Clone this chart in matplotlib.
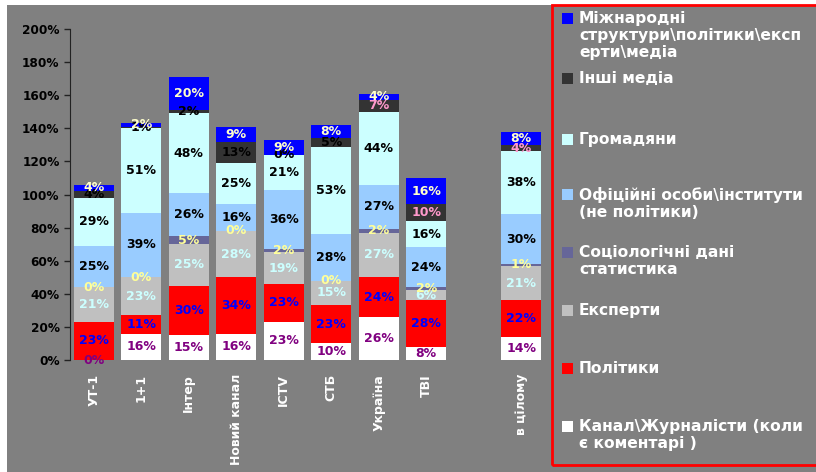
import numpy as np
import matplotlib
matplotlib.use('Agg')
import matplotlib.pyplot as plt
from matplotlib.patches import Rectangle

channels = ['УТ-1', '1+1', 'Інтер', 'Новий канал', 'ICTV', 'СТБ', 'Україна', 'ТВІ', 'в цілому']
slot = [0, 1, 2, 3, 4, 5, 6, 7, 9]   # empty slot before "в цілому"

# stacked from the bottom up, values in %
journalists = [0, 16, 15, 16, 23, 10, 26, 8, 14]
politicians = [23, 11, 30, 34, 23, 23, 24, 28, 22]
experts = [21, 23, 25, 28, 19, 15, 27, 6, 21]
sociology = [0, 0, 5, 0, 2, 0, 2, 2, 1]
officials = [25, 39, 26, 16, 36, 28, 27, 24, 30]
citizens = [29, 51, 48, 25, 21, 53, 44, 16, 38]
other_media = [4, 1, 2, 13, 0, 5, 7, 10, 4]
international = [4, 2, 20, 9, 9, 8, 4, 16, 8]

series = [journalists, politicians, experts, sociology,
          officials, citizens, other_media, international]
legend_labels = [
    'Канал\\Журналісти (коли\nє коментарі )',
    'Політики',
    'Експерти',
    'Соціологічні дані\nстатистика',
    'Офіційні особи\\інститути\n(не політики)',
    'Громадяни',
    'Інші медіа',
    'Міжнародні\nструктури\\політики\\експ\nерти\\медіа',
]
colors = ['#FFFFFF', '#FF0000', '#C0C0C0', '#666699',
          '#99CCFF', '#CCFFFF', '#333333', '#0000FF']
label_colors = ['#800080', '#0000FF', '#CCFFFF', '#FFFF99',
                'black', 'black', None, '#FFFFCC']
dark_label_colors = ['black'] * 6 + ['#FF99CC'] * 3

BG = '#808080'
W, H = 816, 472

fig = plt.figure(figsize=(W / 100, H / 100), dpi=100)
fig.patch.set_facecolor('white')
fig.add_artist(Rectangle((7 / W, 0), 1, 1 - 5 / H, transform=fig.transFigure,
                         facecolor=BG, edgecolor='none', zorder=0))

ax = fig.add_axes([70 / W, 1 - 360 / H, 475 / W, 331 / H])
ax.set_facecolor(BG)
ax.patch.set_alpha(0)

x = np.array(slot)
bottom = np.zeros(len(channels))
for i, vals in enumerate(series):
    vals = np.array(vals, dtype=float)
    ax.bar(x, vals, bottom=bottom, width=0.84, color=colors[i],
           edgecolor='none', zorder=2)
    for j in range(len(channels)):
        c = label_colors[i] if label_colors[i] else dark_label_colors[j]
        ax.text(x[j], bottom[j] + vals[j] / 2, f'{int(vals[j])}%',
                ha='center', va='center', color=c, fontsize=9,
                fontweight='bold', zorder=3)
    bottom += vals

ax.set_xlim(-0.5, 9.5)
ax.set_ylim(0, 200)
ax.set_yticks(range(0, 201, 20))
ax.set_yticklabels([f'{v}%' for v in range(0, 201, 20)],
                   fontsize=8.7, fontweight='bold', color='black')
ax.set_xticks(x)
ax.set_xticklabels(channels, rotation=90, fontsize=9,
                   fontweight='bold', color='white')
ax.tick_params(axis='x', length=0, pad=10)
ax.tick_params(axis='y', length=4, width=1, color='#222222', direction='out')
for s in ['top', 'right', 'bottom']:
    ax.spines[s].set_visible(False)
ax.spines['left'].set_color('#222222')

# legend box drawn by hand to follow the original layout
fig.add_artist(Rectangle((552 / W, 1 - 465 / H), 270 / W, 460 / H,
                         transform=fig.transFigure, facecolor='none',
                         edgecolor='#FF0000', linewidth=2, zorder=5))
legend_tops = [421, 363, 305, 247, 189, 134, 73, 13]
for i, top in enumerate(legend_tops):
    fig.add_artist(Rectangle((562 / W, 1 - (top + 11) / H), 11 / W, 11 / H,
                             transform=fig.transFigure, facecolor=colors[i],
                             edgecolor='none', zorder=6))
    fig.text(579 / W, 1 - (top - 2) / H, legend_labels[i], ha='left', va='top',
             fontsize=11.2, fontweight='bold', color='white',
             linespacing=1.15, zorder=6)

fig.savefig('out.png', dpi=100, facecolor=fig.get_facecolor())
